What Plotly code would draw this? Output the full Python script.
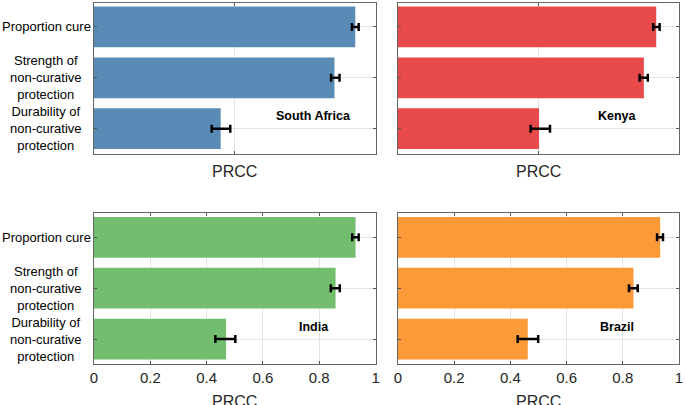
import plotly.graph_objects as go
from plotly.subplots import make_subplots

params = [
    "Proportion cure",
    "Strength of<br>non-curative<br>protection",
    "Durability of<br>non-curative<br>protection",
]
countries = ["South Africa", "Kenya", "India", "Brazil"]
colors = ["#5A8BB6", "#E8494A", "#72BE6E", "#FD9A38"]

# PRCC per parameter, with lower / upper ends of the error bars
prcc = {
    "South Africa": [0.928, 0.854, 0.450],
    "Kenya": [0.919, 0.875, 0.502],
    "India": [0.929, 0.858, 0.469],
    "Brazil": [0.933, 0.838, 0.462],
}
prcc_lo = {
    "South Africa": [0.916, 0.842, 0.418],
    "Kenya": [0.908, 0.860, 0.472],
    "India": [0.917, 0.841, 0.431],
    "Brazil": [0.922, 0.822, 0.426],
}
prcc_hi = {
    "South Africa": [0.940, 0.872, 0.484],
    "Kenya": [0.931, 0.889, 0.541],
    "India": [0.940, 0.873, 0.502],
    "Brazil": [0.943, 0.853, 0.499],
}
x_ticks = [0, 0.2, 0.4, 0.6, 0.8, 1]
x_ticktext = ["0", "0.2", "0.4", "0.6", "0.8", "1"]

FONT = "Liberation Sans, Arial, sans-serif"
TXT = "#262626"
W, H = 685, 405
ML, MR, MT, MB = 94, 3, 2, 41
PW, PH = W - ML - MR, H - MT - MB

fig = make_subplots(rows=2, cols=2)

x_dom = [[0, 283 / PW], [305.5 / PW, 1]]
y_dom = [[1 - 151 / PH, 1], [0, 151 / PH]]

for i, c in enumerate(countries):
    r, col = i // 2 + 1, i % 2 + 1
    vals = prcc[c]
    fig.add_trace(
        go.Bar(
            x=vals,
            y=list(range(len(params))),
            orientation="h",
            width=0.8,
            marker=dict(color=colors[i], line=dict(width=0)),
            error_x=dict(
                type="data",
                symmetric=False,
                array=[h - v for h, v in zip(prcc_hi[c], vals)],
                arrayminus=[v - l for l, v in zip(prcc_lo[c], vals)],
                color="black",
                thickness=2.5,
                width=4,
            ),
            showlegend=False,
        ),
        row=r,
        col=col,
    )
    bottom = r == 2
    fig.update_xaxes(
        domain=x_dom[col - 1],
        range=[0, 1],
        tickvals=x_ticks if bottom else [0, 0.5, 1],
        ticktext=x_ticktext if bottom else ["", "", ""],
        showticklabels=bottom,
        ticks="inside",
        ticklen=3,
        tickcolor="#555555",
        showline=True,
        linecolor="#666666",
        linewidth=1,
        mirror="ticks",
        showgrid=True,
        gridcolor="#E3E3E3",
        zeroline=False,
        tickfont=dict(family=FONT, size=15, color=TXT),
        row=r,
        col=col,
    )
    fig.update_yaxes(
        domain=y_dom[r - 1],
        range=[2.49, -0.47],
        tickvals=list(range(len(params))),
        showticklabels=False,
        ticks="inside",
        ticklen=3,
        tickcolor="#555555",
        showline=True,
        linecolor="#666666",
        linewidth=1,
        mirror="ticks",
        showgrid=True,
        gridcolor="#E3E3E3",
        zeroline=False,
        row=r,
        col=col,
    )
    xref = "x" if i == 0 else f"x{i + 1}"
    yref = "y" if i == 0 else f"y{i + 1}"
    # country label
    fig.add_annotation(
        x=0.78, y=1.76, xref=xref, yref=yref, text=f"<b>{c}</b>",
        showarrow=False, font=dict(family=FONT, size=12.5, color="black"),
    )
    # axis title
    fig.add_annotation(
        x=0.5, y=0, xref=f"{xref} domain", yref=f"{yref} domain",
        text="PRCC", showarrow=False, yanchor="top",
        yshift=-27 if bottom else -7,
        font=dict(family=FONT, size=16, color=TXT),
    )
    # parameter labels on the left column
    if col == 1:
        for k, p in enumerate(params):
            fig.add_annotation(
                x=0, y=k, xref=f"{xref} domain", yref=yref, text=p,
                showarrow=False, xanchor="center", align="center",
                xshift=-48, font=dict(family=FONT, size=13, color="black"),
            )

fig.update_layout(
    width=W,
    height=H,
    margin=dict(l=ML, r=MR, t=MT, b=MB),
    paper_bgcolor="white",
    plot_bgcolor="white",
    bargap=0.2,
    font=dict(family=FONT, color=TXT),
)

# page default margin would shift the figure, drop it
fig.write_html(
    "out.html",
    config={"displayModeBar": False},
    post_script="document.body.style.margin='0';document.body.style.overflow='hidden';",
)
